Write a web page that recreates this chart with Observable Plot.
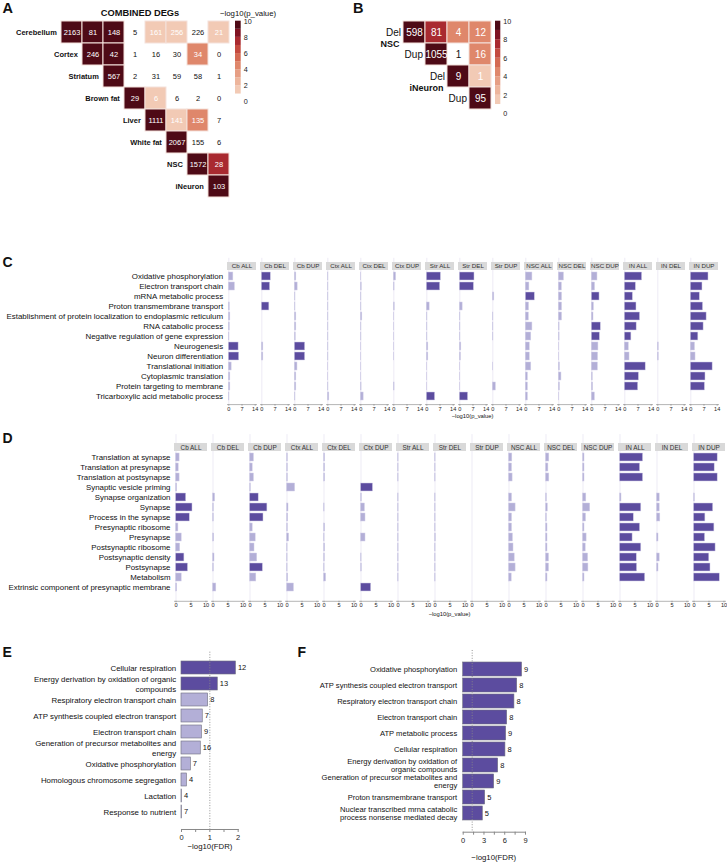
<!DOCTYPE html>
<html><head><meta charset="utf-8">
<script src="https://cdn.jsdelivr.net/npm/d3@7"></script>
<script src="https://cdn.jsdelivr.net/npm/@observablehq/plot@0.6"></script>
<style>
body{margin:0;background:#fff;font-family:"Liberation Sans",Arial,Helvetica,sans-serif;}
#root{position:relative;width:727px;height:863px;overflow:hidden;background:#fff;}
</style></head><body><div id="root"></div>
<script>
// ---------------- DATA ----------------
// Panel A
const aTissues = ["Cerebellum","Cortex","Striatum","Brown fat","Liver","White fat","NSC","iNeuron"];
const aCounts = [
  [2163,81,148,5,161,256,226,21],
  [246,42,1,16,30,34,0],
  [567,2,31,59,58,1],
  [29,6,6,2,0],
  [1111,141,135,7],
  [2067,155,6],
  [1572,28],
  [103]
];
const aLogP = [
  [10,10,10,null,1.5,1.5,null,1.5],
  [10,10,null,null,null,4.5,null],
  [10,null,null,null,null,null],
  [10,1.5,null,null,null],
  [10,1.5,4.5,null],
  [10,null,null],
  [10,7.5],
  [10]
];
// Panel B
const bRows = ["NSC Del","NSC Dup","iNeuron Del","iNeuron Dup"];
const bRowLabels = ["Del","Dup","Del","Dup"];
const bGroups = ["NSC","iNeuron"];
const bGroupRows = ["NSC Del","iNeuron Del"];
const bCounts = [[598,81,4,12],[1055,1,16],[9,1],[95]];
const bLogP = [[10,7.5,4.5,4.5],[10,null,4.5],[10,1.5],[10]];
// colour legend (-log10 p)
const legendLows = [1,2,3,4,5,6,7,8,9];
const legendBreaks = [2,3,4,5,6,7,8,9];
const legendColors = ["#f2cab5","#edb59c","#e69e84","#df876b","#d46a53","#c44a3f","#a92a30","#7f1322","#4e0a16"];
const legendTicks = [0,2,4,6,8,10];

// Panel C
const cTerms = ["Oxidative phosphorylation","Electron transport chain","mRNA metabolic process","Proton transmembrane transport","Establishment of protein localization to endoplasmic reticulum","RNA catabolic process","Negative regulation of gene expression","Neurogenesis","Neuron differentiation","Translational initiation","Cytoplasmic translation","Protein targeting to membrane","Tricarboxylic acid metabolic process"];
const facetNames = ["Cb ALL","Cb DEL","Cb DUP","Ctx ALL","Ctx DEL","Ctx DUP","Str ALL","Str DEL","Str DUP","NSC ALL","NSC DEL","NSC DUP","IN ALL","IN DEL","IN DUP"];
const cValues = [
  [2.4,3.2,0,0.5,0.8,0.5,0.3,5.2,5.5,1.5,0.8,0.8,0.3],
  [4.8,4.4,0,4.0,0,0,0,0.8,0.8,0,0,0,0],
  [0.8,1.5,0.3,0.3,0.8,0.8,0.5,5.5,5.5,1.4,0.8,0.8,0.3],
  [0.3,0.3,0.3,0.3,0.3,0.3,0.3,0.3,0.3,0.2,0.2,0.3,0.8],
  [0.2,0.5,0.3,0.3,0.8,0.3,0.3,0.2,0.2,0.2,0.2,0.4,1.5],
  [1.2,0.4,0,0.5,0.2,0.2,0.2,0.2,0.2,0,0,0.4,0],
  [7.5,7.1,0,1.5,0.3,0.3,0.3,0.8,0.8,0.2,0.2,0.2,4.4],
  [7.8,7.5,0,1.5,0.3,0.3,0.3,0.8,0.6,0.2,0.2,0.2,4.4],
  [0,0,0.8,0,0.3,0.3,0.3,0,0,0.2,0,1.6,0],
  [3.5,1.9,4.8,1.7,1.6,3.5,2.9,2.1,2.1,2.9,1.1,1.1,1.1],
  [2.7,1.6,1.7,1.7,1.7,0.4,0.4,0.2,0.2,0.6,1.4,0.6,0.2],
  [3.0,1.7,4.1,1.1,0.9,4.8,4.3,3.5,3.3,3.2,0.5,0.7,1.6],
  [9.2,5.9,4.3,6.2,8.1,6.3,3.5,2.1,2.5,11.1,7.5,7.1,0],
  [0,0,0,0,0,0,0,0.5,0.5,0,0,0,0],
  [9.4,6.2,4.8,6.5,8.4,6.8,4.0,2.2,2.5,11.6,7.8,7.5,0]
];
const cSignificant = [[7,8],[0,1,3],[7,8],[],[],[],[0,1,12],[0,1,12],[],[2],[],[2,5,6],[0,1,2,3,4,5,6,9,10,11],[],[0,1,2,3,4,5,6,9,10,11]];
const cTicks = [0,7,14];

// Panel D
const dTerms = ["Translation at synapse","Translation at presynapse","Translation at postsynapse","Synaptic vesicle priming","Synapse organization","Synapse","Process in the synapse","Presynaptic ribosome","Presynapse","Postsynaptic ribosome","Postsynaptic density","Postsynapse","Metabolism","Extrinsic component of presynaptic membrane"];
const dValues = [
  [1.2,0.9,1.2,0.4,3.4,5.5,4.6,0.8,1.9,1.4,2.8,4.0,1.9,0.4],
  [0,0,0,0,0.7,0.3,0.3,0,0.4,0,0.5,0.3,0,1.1],
  [1.3,0.9,1.3,0.3,2.9,5.8,4.5,0.9,1.9,1.5,2.4,4.3,2.1,0],
  [0.3,0.3,0.3,2.7,0,0.5,0.4,0.3,0.7,0.2,0.2,0.2,0.4,2.3],
  [0.4,0.4,0.4,0,0,0.2,0,0.4,0.2,0.4,0.3,0.2,0.7,0],
  [0,0,0,4.0,0.3,1.3,1.5,0,1.5,0,0.2,0.3,0,3.4],
  [0.2,0.2,0.2,0,0.2,0.2,0.2,0.2,0.2,0.2,0.2,0.2,0.2,0],
  [0.2,0.2,0.2,0,0.2,0.2,0.2,0.2,0.3,0.2,0.2,0.2,0.2,0],
  [0,0,0,0,0,0,0,0,0,0,0,0,0,0],
  [1.1,1.0,1.2,0,1.0,2.2,1.0,1.0,1.3,1.5,1.9,2.2,0.9,0],
  [1.1,0.8,1.1,0,0.3,0.6,0.3,0.5,0.5,0.5,1.0,1.0,0.5,0],
  [0.5,0.5,0.5,0,1.1,2.4,1.0,0.5,1.2,0.9,1.7,1.8,0.5,0],
  [7.7,6.7,7.7,0,0.5,7.1,4.6,6.7,4.2,7.1,5.6,5.7,8.4,0],
  [0,0,0,0,0.9,0.9,1.1,0,0.5,0,0.9,0.5,0,0],
  [7.9,6.9,7.9,0,0.3,6.4,3.8,6.8,3.7,7.2,5.1,5.5,8.6,0]
];
const dSignificant = [[4,5,6,10,11],[],[4,5,6,11],[],[],[3,13],[],[],[],[],[],[],[0,1,2,3,5,6,7,8,9,10,11,12],[],[0,1,2,5,6,7,8,9,10,11,12]];
const dTicks = [0,5,10];

// Panel E
const eTerms = ["Cellular respiration","Energy derivation by oxidation of organic\ncompounds","Respiratory electron transport chain","ATP synthesis coupled electron transport","Electron transport chain","Generation of precursor metabolites and\nenergy","Oxidative phosphorylation","Homologous chromosome segregation","Lactation","Response to nutrient"];
const eValues = [1.92,1.28,0.94,0.75,0.72,0.68,0.33,0.19,0.02,0.02];
const eGenes = [12,13,8,7,9,16,7,4,4,7];
const eSignificant = [true,true,false,false,false,false,false,false,false,false];
const eTicks = [0,0.5,1,1.5,2];
const eCutoff = [1];

// Panel F
const fTerms = ["Oxidative phosphorylation","ATP synthesis coupled electron transport","Respiratory electron transport chain","Electron transport chain","ATP metabolic process","Cellular respiration","Energy derivation by oxidation of\norganic compounds","Generation of precursor metabolites and\nenergy","Proton transmembrane transport","Nuclear transcribed mrna catabolic\nprocess nonsense mediated decay"];
const fValues = [8.5,7.8,7.4,6.35,6.2,6.1,5.05,4.47,3.17,2.83];
const fGenes = [9,8,8,8,9,8,8,9,5,5];
const fTicks = [0,1.5,3,4.5,6,7.5,9];
const fCutoff = [1.3];

// ---------------- DRAWING ----------------
const FONT = '"Liberation Sans", Arial, Helvetica, sans-serif';
const DARK = "#5c4c9f", LIGHT = "#b3afd7";
const root = document.getElementById("root");
function place(node, left, top) {
  node.style.position = "absolute";
  node.style.left = left + "px";
  node.style.top = top + "px";
  root.appendChild(node);
}
const baseStyle = {fontFamily: FONT, background: "transparent", color: "#1a1a1a", overflow: "visible"};

function heatmap(o) {
  const n = o.cats.length;
  const cells = [];
  o.counts.forEach((row, i) => row.forEach((v, k) => cells.push({r: o.cats[i], c: o.cats[i + k], v, p: o.logp[i][k]})));
  const filled = cells.filter(d => d.p != null), empty = cells.filter(d => d.p == null);
  return Plot.plot({
    width: o.ml + n * o.cw + 2, height: o.mt + n * o.ch + 2,
    marginLeft: o.ml, marginTop: o.mt, marginRight: 2, marginBottom: 2,
    style: {...baseStyle, fontSize: o.fs + "px"},
    x: {domain: o.cats, padding: 0, axis: null},
    y: {domain: o.cats, padding: 0, axis: null},
    color: {type: "threshold", domain: legendBreaks, range: legendColors},
    marks: [
      Plot.cell(filled, {x: "c", y: "r", fill: "p", stroke: "#f4e1db", strokeWidth: 1}),
      Plot.text(filled, {x: "c", y: "r", text: d => String(d.v), fill: "white", fontSize: o.fs}),
      Plot.text(empty, {x: "c", y: "r", text: d => String(d.v), fill: "#111", fontSize: o.fs}),
      ...o.extra
    ]
  });
}

function legend(o) {
  const bands = legendLows.map((lo, i) => ({lo, hi: lo + 1, col: legendColors[i]}));
  return Plot.plot({
    width: o.w + 24, height: o.bottom + 8,
    marginLeft: 0, marginRight: 24, marginTop: o.top, marginBottom: 8,
    style: {...baseStyle, fontSize: "7px"},
    y: {domain: [0, 10]},
    marks: [
      Plot.rect(bands, {y1: "lo", y2: "hi", fill: "col"}),
      Plot.axisY({anchor: "right", ticks: legendTicks, tickSize: 0, tickPadding: 2.5, fontSize: 7.2, label: null})
    ]
  });
}

// Panel A
const cwA = 21.96;
place(heatmap({
  cats: aTissues, counts: aCounts, logp: aLogP, ml: 57.3, mt: 20.7, cw: cwA, ch: 22.1, fs: 7.5,
  extra: [Plot.text(aTissues, {x: d => d, y: d => d, text: d => d, dx: -(cwA / 2 + 4.2), textAnchor: "end", fontWeight: "bold", fontSize: 7.5, fill: "#111"})]
}), 0, 0);
place(legend({w: 5.7, top: 20.7, bottom: 101.7}), 235, 0);

// Panel B
const cwB = 22.1;
place(heatmap({
  cats: bRows, counts: bCounts, logp: bLogP, ml: 42.7, mt: 20, cw: cwB, ch: 22.3, fs: 10,
  extra: [
    Plot.text(bRows, {x: d => d, y: d => d, text: (d, i) => bRowLabels[i], dx: -(cwB / 2 + 2.5), textAnchor: "end", fontSize: 10, fill: "#111"}),
    Plot.text(bGroupRows, {x: d => d, y: d => d, text: (d, i) => bGroups[i], dx: -(cwB / 2 + 4), dy: 12, textAnchor: "end", fontWeight: "bold", fontSize: 9, fill: "#111"})
  ]
}), 360, 0);
place(legend({w: 5.3, top: 20.7, bottom: 113.3}), 494.7, 0);

// Facetted bar panels C & D
function facetBars(o) {
  const rows = [];
  o.facets.forEach((f, fi) => o.values[fi].forEach((v, ti) => {
    if (v > 0) rows.push({f, term: o.terms[ti], v, s: o.sig[fi].includes(ti)});
  }));
  const [x0, x1] = o.xdom;
  return Plot.plot({
    width: 727, height: o.height,
    marginLeft: o.ml, marginRight: o.mr, marginTop: o.mt, marginBottom: o.mb,
    style: {...baseStyle, fontSize: "6px"},
    fx: {domain: o.facets, paddingInner: 0.12, paddingOuter: 0, axis: null},
    y: {domain: ["__hdr", ...o.terms], padding: 0.2},
    x: {domain: o.xdom},
    marks: [
      Plot.ruleX(o.facets, {fx: d => d, x: 0, stroke: "#e8e6f3", strokeWidth: 0.8}),
      Plot.barX(o.facets, {fx: d => d, y: () => "__hdr", x1: x0, x2: x1, fill: "#d9d9d9"}),
      Plot.text(o.facets, {fx: d => d, y: () => "__hdr", x: (x0 + x1) / 2, text: d => d, fontSize: o.hfs, fill: "#333"}),
      Plot.barX(rows, {fx: "f", y: "term", x1: 0, x2: "v", fill: d => d.s ? DARK : LIGHT, stroke: "#d2cfe8", strokeWidth: 0.5}),
      Plot.frame({anchor: "bottom", stroke: "#b5b5b5"}),
      Plot.axisY({ticks: o.terms, tickSize: 0, tickPadding: o.tp, fontSize: o.yfs, label: null, fill: "#111"}),
      Plot.axisX({ticks: o.ticks, tickSize: 1.5, tickPadding: 0.5, fontSize: 5.6, label: null, stroke: "#999", fill: "#222"})
    ]
  });
}
place(facetBars({facets: facetNames, terms: cTerms, values: cValues, sig: cSignificant, xdom: [-0.7, 14.7], ticks: cTicks,
  height: 166.1, ml: 222.7, mr: 4.4, mt: 7.8, mb: 12, tp: 4.4, yfs: 7.95, hfs: 6.2}), 0, 250);
place(facetBars({facets: facetNames, terms: dTerms, values: dValues, sig: dSignificant, xdom: [-0.5, 10.5], ticks: dTicks,
  height: 187.8, ml: 173, mr: 1.1, mt: 9.1, mb: 12, tp: 4, yfs: 7.9, hfs: 6.4}), 0, 425);

// Panels E & F
function hbar(o) {
  const data = o.terms.map((t, i) => ({t, v: o.values[i], n: o.genes[i], s: o.sig[i]}));
  return Plot.plot({
    width: o.width, height: o.height,
    marginLeft: o.ml, marginRight: o.mr, marginTop: o.mt, marginBottom: o.mb,
    style: {...baseStyle, fontSize: "7.5px"},
    x: {domain: o.xdom},
    y: {domain: o.terms, range: o.yrange, padding: o.pad},
    marks: [
      Plot.barX(data, {x1: 0, x2: "v", y: "t", fill: d => d.s ? DARK : LIGHT, stroke: "#6e6e7e", strokeWidth: 0.6}),
      Plot.ruleX(o.cutoff, {stroke: "#888", strokeDasharray: "1,1.6", strokeWidth: 0.9}),
      Plot.text(data, {x: "v", y: "t", text: d => String(d.n), dx: 2, textAnchor: "start", fontSize: 7.5, fill: "#111"}),
      Plot.frame({anchor: "bottom", stroke: "#888"}),
      Plot.axisY({tickSize: 0, tickPadding: o.tp, fontSize: o.yfs, lineHeight: o.lh, label: null, fill: "#111"}),
      Plot.axisX({ticks: o.ticks, tickFormat: o.fmt, tickSize: 3, tickPadding: 2, fontSize: 7.5, label: null, stroke: "#888", fill: "#222"})
    ]
  });
}
place(hbar({terms: eTerms, values: eValues, genes: eGenes, sig: eSignificant, cutoff: eCutoff, xdom: [0, 2], ticks: eTicks,
  fmt: d => Number.isInteger(d) ? String(d) : "", width: 259.7, height: 203, ml: 181, mr: 22, mt: 11.7, mb: 14,
  yrange: [15.7, 184.4], pad: 0.16, tp: 5.3, yfs: 7.9, lh: 1.22}), 0, 640);
place(hbar({terms: fTerms, values: fValues, genes: fGenes, sig: fTerms.map(() => true), cutoff: fCutoff, xdom: [0, 9], ticks: fTicks,
  fmt: d => d % 3 === 0 ? String(d) : "", width: 285, height: 205.7, ml: 202.7, mr: 20, mt: 10, mb: 14,
  yrange: [14.7, 186.7], pad: 0.118, tp: 6, yfs: 7.6, lh: 1.12}), 260, 640);

// Overlay titles / panel letters
const overlay = d3.create("svg").attr("width", 727).attr("height", 863)
  .style("position", "absolute").style("left", "0px").style("top", "0px")
  .style("pointer-events", "none").style("font-family", FONT);
function label(x, y, text, size, weight = "normal", anchor = "start") {
  overlay.append("text").attr("x", x).attr("y", y).attr("font-size", size)
    .attr("font-weight", weight).attr("text-anchor", anchor).attr("fill", "#111").text(text);
}
label(2.5, 13.3, "A", 14.5, "bold");
label(353, 13.3, "B", 14.5, "bold");
label(2.5, 267.3, "C", 14, "bold");
label(2.5, 443.3, "D", 14, "bold");
label(2.5, 656.7, "E", 14, "bold");
label(297.5, 656.7, "F", 14, "bold");
label(140, 15.7, "COMBINED DEGs", 9.3, "bold", "middle");
label(220, 15.5, "\u2212log10(p_value)", 7.8);
label(472.6, 417.5, "\u2212log10(p_value)", 5.8, "normal", "middle");
label(449.5, 616, "\u2212log10(p_value)", 5.8, "normal", "middle");
label(210, 849.3, "\u2212log10(FDR)", 7.8, "normal", "middle");
label(493.8, 859.5, "\u2212log10(FDR)", 7.8, "normal", "middle");
root.appendChild(overlay.node());
</script>
</body></html>
